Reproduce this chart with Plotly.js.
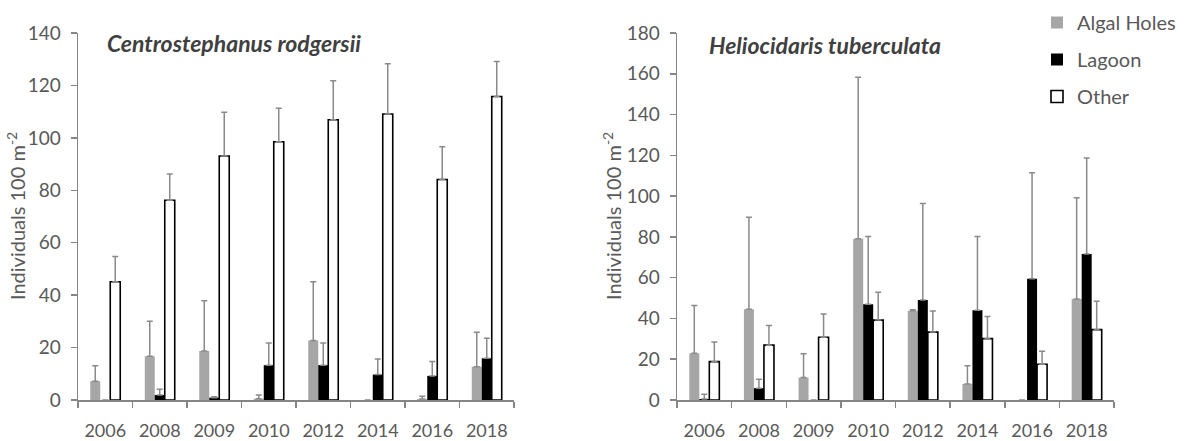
<!DOCTYPE html>
<html>
<head>
<meta charset="utf-8">
<script src="https://cdn.plot.ly/plotly-3.0.1.min.js"></script>
<style>html,body{margin:0;padding:0;background:#fff;}#chart{width:1194px;height:441px;}</style>
</head>
<body>
<div id="chart"></div>
<script>
// ---- data ----
const years = ['2006','2008','2009','2010','2012','2014','2016','2018'];
const seriesNames = ['Algal Holes','Lagoon','Other'];

// Centrostephanus rodgersii (left panel)
const centroAlgal    = [7.2, 16.7, 18.7, 0.5, 22.7, 0, 0.4, 12.7];
const centroAlgalSE  = [5.9, 13.3, 19.2, 1.4, 22.4, null, 1.0, 13.1];
const centroLagoon   = [0, 1.9, 0.9, 13.3, 13.3, 9.7, 9.2, 15.9];
const centroLagoonSE = [null, 2.2, 0.3, 8.4, 8.4, 5.9, 5.5, 7.7];
const centroOther    = [45.1, 76.2, 93.1, 98.5, 106.9, 109.1, 84.1, 115.8];
const centroOtherSE  = [9.6, 10.0, 16.7, 12.8, 14.9, 19.2, 12.5, 13.3];

// Heliocidaris tuberculata (right panel)
const helioAlgal    = [22.9, 44.5, 11.0, 79.1, 43.8, 7.9, 0, 49.5];
const helioAlgalSE  = [23.4, 45.1, 11.7, 79.2, 0.5, 8.9, null, 49.7];
const helioLagoon   = [0.5, 5.8, 0, 47.0, 49.1, 44.0, 59.5, 71.6];
const helioLagoonSE = [2.3, 4.4, null, 33.2, 47.3, 36.2, 51.9, 47.1];
const helioOther    = [18.8, 26.9, 30.8, 39.2, 33.3, 30.1, 17.5, 34.5];
const helioOtherSE  = [9.7, 9.7, 11.4, 13.7, 10.4, 10.9, 6.4, 13.9];

const panelTitles = ['Centrostephanus rodgersii', 'Heliocidaris tuberculata'];
const yTitle = 'Individuals 100 m<sup>-2</sup>';

// ---- styles ----
const FONT = 'Lato, "Open Sans", sans-serif';
const TXT = '#595959';
const AX = '#868686';
const ERRC = '#8a8a8a';
const fills = ['#a6a6a6', '#000000', '#ffffff'];
const lines = [0, 0, 1.6];

function mkErr(arr) {
  return {type: 'data', symmetric: false, array: arr,
          arrayminus: arr.map(() => 0), color: ERRC, thickness: 1.5, width: 3};
}

const traces = [];
const left = [[centroAlgal, centroAlgalSE], [centroLagoon, centroLagoonSE], [centroOther, centroOtherSE]];
const right = [[helioAlgal, helioAlgalSE], [helioLagoon, helioLagoonSE], [helioOther, helioOtherSE]];

left.forEach((d, i) => traces.push({
  type: 'bar', x: years, y: d[0], name: seriesNames[i], xaxis: 'x', yaxis: 'y',
  marker: {color: fills[i], line: {color: '#000', width: lines[i]}},
  error_y: mkErr(d[1]), showlegend: false, legendgroup: 'g' + i, hoverinfo: 'y'
}));
right.forEach((d, i) => traces.push({
  type: 'bar', x: years, y: d[0], name: seriesNames[i], xaxis: 'x2', yaxis: 'y2',
  marker: {color: fills[i], line: {color: '#000', width: lines[i]}},
  error_y: mkErr(d[1]), showlegend: true, legendgroup: 'g' + i, hoverinfo: 'y'
}));

const W = 1194, H = 441;
const px = v => v / W;
const py = v => (H - v) / H;

function xAx(dom, anchor) {
  return {domain: dom, anchor: anchor, type: 'category', showline: true, linecolor: AX, linewidth: 1.5,
          ticks: 'outside', tickson: 'boundaries', ticklen: 6, tickcolor: AX, tickwidth: 1.5,
          showgrid: false, zeroline: false, ticklabelstandoff: 14,
          tickfont: {family: FONT, size: 18, color: TXT}};
}
function yAx(range, anchor) {
  return {domain: [py(400), py(33)], anchor: anchor, range: range, dtick: 20, showline: true,
          linecolor: AX, linewidth: 1.5, ticks: 'outside', ticklen: 6, tickcolor: AX, tickwidth: 1.5,
          showgrid: false, zeroline: false, ticklabelstandoff: 6,
          tickfont: {family: FONT, size: 19, color: TXT}};
}

const layout = {
  width: W, height: H, margin: {l: 0, r: 0, t: 0, b: 0},
  paper_bgcolor: '#fff', plot_bgcolor: '#fff',
  barmode: 'group', bargap: 0.45, bargroupgap: 0,
  xaxis: xAx([px(78), px(514)], 'y'),
  yaxis: yAx([0, 140], 'x'),
  xaxis2: xAx([px(677), px(1114)], 'y2'),
  yaxis2: yAx([0, 180], 'x2'),
  showlegend: true,
  legend: {x: px(1037), y: py(3), xanchor: 'left', yanchor: 'top', tracegroupgap: 8,
           font: {family: FONT, size: 20, color: TXT}, bgcolor: 'rgba(0,0,0,0)', traceorder: 'grouped'},
  annotations: [
    {xref: 'paper', yref: 'paper', x: px(105), y: py(43), xanchor: 'left', yanchor: 'middle', showarrow: false,
     text: '<b><i>' + panelTitles[0] + '</i></b>', font: {family: FONT, size: 23, color: '#404040'}},
    {xref: 'paper', yref: 'paper', x: px(707), y: py(45), xanchor: 'left', yanchor: 'middle', showarrow: false,
     text: '<b><i>' + panelTitles[1] + '</i></b>', font: {family: FONT, size: 23, color: '#404040'}},
    {xref: 'paper', yref: 'paper', x: px(16), y: py(216), xanchor: 'center', yanchor: 'middle', showarrow: false,
     textangle: -90, text: yTitle, font: {family: FONT, size: 20, color: TXT}},
    {xref: 'paper', yref: 'paper', x: px(612), y: py(216), xanchor: 'center', yanchor: 'middle', showarrow: false,
     textangle: -90, text: yTitle, font: {family: FONT, size: 20, color: TXT}}
  ]
};

Plotly.newPlot('chart', traces, layout, {displayModeBar: false, staticPlot: true});
</script>
</body>
</html>
